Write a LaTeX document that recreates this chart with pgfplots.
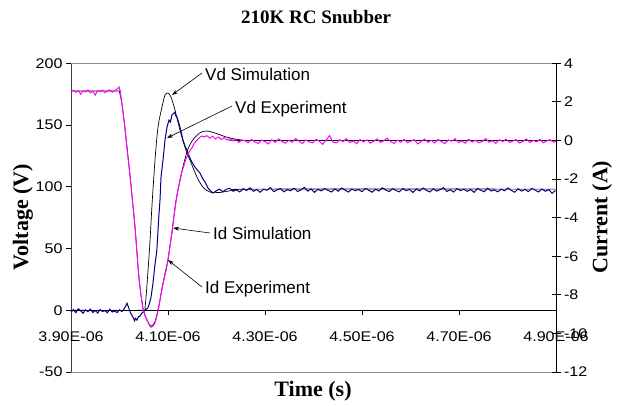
\documentclass[border=0pt]{standalone}
\usepackage{pgfplots}
\pgfplotsset{compat=1.18}
\usepackage{fontspec}
\setmainfont{Liberation Serif}
\newfontfamily\arial{Liberation Sans}
\newfontfamily\arialw[FakeStretch=1.15]{Liberation Sans}
\usetikzlibrary{arrows.meta}
\definecolor{mag}{RGB}{255,0,255}
\definecolor{navy}{RGB}{0,0,128}
\begin{document}
\begin{tikzpicture}[x=1pt,y=1pt]
\begin{axis}[
  at={(71pt,33pt)}, anchor=south west, scale only axis,
  width=485pt, height=308.7pt,
  xmin=3.9, xmax=4.9, ymin=-50, ymax=200,
  axis x line=middle, axis y line=left,
  hide obscured x ticks=false, hide obscured y ticks=false,
  axis line style={-, draw=black!75, line width=0.8pt},
  every inner x axis line/.append style={-},
  every outer y axis line/.append style={-},
  x axis line style={-, draw=black, line width=0.8pt},
  xtick={3.9,4.1,4.3,4.5,4.7,4.9},
  xticklabels={3.90E-06,4.10E-06,4.30E-06,4.50E-06,4.70E-06,4.90E-06},
  ytick={-50,0,50,100,150,200},
  yticklabels={-50,0,50,100,150,200},
  tick align=outside,
  major tick length=5pt,
  tick style={black, line width=0.8pt},
  ticklabel style={font=\arialw\fontsize{14}{16}\selectfont},
  xticklabel style={yshift=-13pt},
  clip=false,
]
\draw[black!45, line width=0.8pt] (rel axis cs:0,1) -- (rel axis cs:1,1);
\draw[black!45, line width=0.8pt] (rel axis cs:0,0) -- (rel axis cs:1,0);
% Vd simulation
\addplot[black, line width=0.7pt, smooth, tension=0.5] coordinates {
(3.900,0) (4.045,0) (4.0526,2.4) (4.0588,32.4) (4.063,56.7) (4.067,85.1) (4.0732,121.6) (4.0794,148.4)
(4.0876,164.6) (4.0938,174.3) (4.100,175.9) (4.1062,172.7) (4.1144,162.1) (4.1247,145.9)
(4.135,132.1) (4.1454,121.6) (4.1598,107.8) (4.1722,99.7) (4.1866,95.7) (4.207,95.4)
(4.238,97.3) (4.290,98.1) (4.900,98.1)};
% Vd experiment
\addplot[navy, line width=1pt] coordinates {
(3.900,-1.5) (3.905,0.5) (3.910,-2.0) (3.915,1.2) (3.920,-0.5) (3.925,-2.4) (3.930,0.3)
(3.935,-1.2) (3.940,0.9) (3.945,-1.8) (3.950,-0.2) (3.955,-2.2) (3.960,0.6) (3.965,-1.0)
(3.970,-0.3) (3.975,-2.0) (3.980,0.8) (3.985,-1.4) (3.990,-0.6) (3.995,-1.9) (4.000,0.4)
(4.005,-1.0) (4.009,0.8) (4.013,3.5) (4.0155,5.7) (4.019,2.0) (4.022,-1.6) (4.025,-3.5)
(4.028,-5.7) (4.031,-8.5) (4.033,-6.5) (4.036,-8.0) (4.039,-5.2) (4.042,-4.8) (4.046,-2.4)
(4.050,-1.0) (4.053,0.5) (4.056,1.0) (4.059,2.4) (4.062,6.0) (4.065,10.5) (4.069,21.9)
(4.073,36.5) (4.077,48.6) (4.081,75.4) (4.0835,89.2) (4.0856,107.8) (4.0897,121.6)
(4.0938,137.8) (4.098,148.4) (4.102,154.0) (4.105,152.5) (4.108,158.1) (4.1124,159.7)
(4.1144,160.5) (4.116,157.5) (4.1186,156.5) (4.1247,148.4) (4.131,137.8) (4.135,133.0)
(4.139,129.7) (4.1454,123.2) (4.150,119.5) (4.1557,115.9) (4.160,113.8) (4.166,111.1)
(4.171,107.0) (4.1763,103.8) (4.1825,98.9) (4.1866,97.3) (4.1928,94.9)
(4.199,96.6) (4.206,98.1) (4.213,96.0) (4.220,97.9) (4.227,98.8) (4.234,96.4) (4.241,97.6)
(4.248,95.8) (4.255,98.4) (4.262,97.0) (4.269,99.1) (4.276,96.3) (4.283,97.8) (4.290,95.6)
(4.297,98.0) (4.304,97.2) (4.311,99.4) (4.318,96.1) (4.325,97.5) (4.332,98.6) (4.339,95.9)
(4.346,97.7) (4.353,96.8) (4.360,98.9) (4.367,96.2) (4.374,97.4) (4.381,99.6) (4.388,96.5)
(4.395,98.2) (4.402,95.5) (4.409,97.9) (4.416,96.7) (4.423,98.5) (4.430,97.1) (4.437,95.8)
(4.444,98.3) (4.451,96.4) (4.458,99.0) (4.465,97.3) (4.472,95.7) (4.479,98.1) (4.486,96.9)
(4.493,97.8) (4.500,96.0) (4.507,98.7) (4.514,97.2) (4.521,95.6) (4.528,98.0) (4.535,96.6)
(4.542,99.2) (4.549,97.4) (4.556,96.1) (4.563,98.4) (4.570,97.0) (4.577,95.9) (4.584,98.6)
(4.591,96.8) (4.598,97.9) (4.605,95.4) (4.612,98.2) (4.619,96.7) (4.626,99.0) (4.633,97.1)
(4.640,95.8) (4.647,98.3) (4.654,96.5) (4.661,97.7) (4.668,99.3) (4.675,96.2) (4.682,97.6)
(4.689,95.7) (4.696,98.5) (4.703,96.9) (4.710,98.0) (4.717,96.3) (4.724,97.8) (4.731,95.5)
(4.738,98.6) (4.745,97.2) (4.752,96.0) (4.759,98.8) (4.766,96.6) (4.773,97.5) (4.780,95.9)
(4.787,98.1) (4.794,96.8) (4.801,99.1) (4.808,97.0) (4.815,95.6) (4.822,98.4) (4.829,96.5)
(4.836,97.9) (4.843,96.1) (4.850,98.7) (4.857,97.3) (4.864,95.8) (4.871,98.2) (4.878,96.4)
(4.885,97.7) (4.892,94.8) (4.899,97.0)};
\end{axis}
\begin{axis}[
  at={(71pt,33pt)}, anchor=south west, scale only axis,
  width=485pt, height=308.7pt,
  xmin=3.9, xmax=4.9, ymin=-12, ymax=4,
  axis x line=none, axis y line=right,
  axis line style={-, draw=black, line width=0.8pt},
  every outer y axis line/.append style={-},
  ytick={-12,-10,-8,-6,-4,-2,0,2,4},
  yticklabels={-12,-10,-8,-6,-4,-2,0,2,4},
  ytick align=center, major tick length=9pt,
  tick style={black, line width=0.8pt},
  ticklabel style={font=\arialw\fontsize{14}{16}\selectfont},
  clip=false,
]
% Id simulation
\addplot[black, line width=0.7pt, smooth, tension=0.5] coordinates {
(3.900,2.56) (3.995,2.56) (4.000,2.50) (4.005,1.9) (4.011,0.70) (4.022,-1.90) (4.032,-4.49)
(4.040,-7.08) (4.048,-8.64) (4.057,-9.32) (4.065,-9.62) (4.073,-9.40) (4.081,-8.60)
(4.090,-7.35) (4.100,-6.15) (4.108,-4.75) (4.116,-3.20) (4.125,-2.00) (4.133,-1.15)
(4.141,-0.45) (4.149,-0.05) (4.157,0.20) (4.165,0.38) (4.173,0.47) (4.180,0.49)
(4.190,0.44) (4.200,0.36) (4.210,0.27) (4.220,0.18) (4.235,0.09) (4.250,0.03)
(4.270,0.00) (4.900,0.00)};
% Id experiment
\addplot[mag, line width=1pt] coordinates {
(3.900,2.56) (3.905,2.60) (3.910,2.50) (3.915,2.58) (3.920,2.40) (3.925,2.57) (3.930,2.52)
(3.935,2.62) (3.940,2.47) (3.945,2.56) (3.950,2.35) (3.955,2.58) (3.960,2.53) (3.965,2.61)
(3.970,2.48) (3.975,2.57) (3.980,2.62) (3.985,2.50) (3.990,2.59) (3.995,2.66) (3.999,2.78)
(4.002,2.45) (4.005,1.90) (4.011,0.70) (4.016,-0.55) (4.022,-1.90) (4.027,-3.20)
(4.032,-4.49) (4.036,-5.85) (4.040,-7.08) (4.044,-7.95) (4.048,-8.64) (4.052,-9.05)
(4.057,-9.32) (4.061,-9.55) (4.065,-9.68) (4.069,-9.62) (4.073,-9.47) (4.077,-9.10)
(4.081,-8.64) (4.085,-8.05) (4.090,-7.40) (4.095,-6.85) (4.100,-6.21) (4.104,-5.50)
(4.108,-4.81) (4.112,-4.00) (4.116,-3.25) (4.120,-2.62) (4.125,-2.06) (4.129,-1.60)
(4.133,-1.28) (4.137,-0.95) (4.141,-0.76) (4.145,-0.52) (4.149,-0.40) (4.154,-0.15)
(4.160,0.02) (4.165,0.15) (4.170,0.23) (4.175,0.18) (4.180,0.25) (4.186,0.12)
(4.192,0.22) (4.198,0.08) (4.204,0.18) (4.210,0.05) (4.216,0.15) (4.222,0.02)
(4.228,0.10) (4.234,-0.02) (4.240,0.06) (4.246,-0.10) (4.252,0.02)
(4.258,0.00) (4.265,-0.12) (4.272,0.05) (4.279,-0.08) (4.286,-0.15) (4.293,0.02)
(4.300,-0.06) (4.307,-0.18) (4.314,0.04) (4.321,-0.10) (4.328,0.08) (4.335,-0.05)
(4.342,-0.14) (4.349,0.01) (4.356,-0.09) (4.363,0.10) (4.370,-0.03) (4.377,-0.16)
(4.384,0.03) (4.391,-0.07) (4.398,-0.12) (4.405,0.06) (4.412,-0.04) (4.419,-0.20)
(4.426,0.02) (4.433,0.25) (4.440,-0.08) (4.447,-0.13) (4.454,0.04) (4.461,-0.06)
(4.468,0.09) (4.475,-0.11) (4.482,-0.02) (4.489,-0.17) (4.496,0.05) (4.503,-0.07)
(4.510,0.03) (4.517,-0.14) (4.524,-0.04) (4.531,0.08) (4.538,-0.10) (4.545,-0.01)
(4.552,0.12) (4.559,-0.06) (4.566,-0.15) (4.573,0.02) (4.580,-0.09) (4.587,0.06)
(4.594,-0.12) (4.601,-0.03) (4.608,0.04) (4.615,-0.18) (4.622,-0.05) (4.629,0.07)
(4.636,-0.10) (4.643,0.01) (4.650,-0.13) (4.657,0.05) (4.664,-0.07) (4.671,-0.16)
(4.678,0.03) (4.685,-0.04) (4.692,0.09) (4.699,-0.11) (4.706,-0.02) (4.713,-0.14)
(4.720,0.06) (4.727,-0.08) (4.734,0.02) (4.741,-0.12) (4.748,-0.05) (4.755,0.10)
(4.762,-0.09) (4.769,-0.01) (4.776,-0.15) (4.783,0.04) (4.790,-0.06) (4.797,0.07)
(4.804,-0.10) (4.811,-0.03) (4.818,0.05) (4.825,-0.13) (4.832,-0.04) (4.839,0.08)
(4.846,-0.11) (4.853,0.00) (4.860,-0.07) (4.867,0.06) (4.874,-0.12) (4.881,-0.02)
(4.888,0.04) (4.895,-0.09) (4.900,-0.03)};
\end{axis}
% titles and labels
\node[font=\bfseries\fontsize{19}{22}\selectfont] at (316,388) {210K RC Snubber};
\node[font=\bfseries\fontsize{22}{26}\selectfont] at (313,14) {Time (s)};
\node[font=\bfseries\fontsize{22}{26}\selectfont, rotate=90] at (23,188) {Voltage (V)};
\node[font=\bfseries\fontsize{22}{26}\selectfont, rotate=90] at (602,188) {Current (A)};
% annotations
\begin{scope}[font=\arial\fontsize{17}{20}\selectfont, inner sep=0pt]
\node[anchor=base west] at (205,324) {Vd Simulation};
\node[anchor=base west] at (235,291) {Vd Experiment};
\node[anchor=base west] at (213,166) {Id Simulation};
\node[anchor=base west] at (205,112) {Id Experiment};
\end{scope}
\begin{scope}[line width=0.6pt, -{Stealth[length=6pt,width=4pt]}]
\draw (202,332) -- (172,310);
\draw (232,299) -- (167,267);
\draw (210,172) -- (173,177);
\draw (202,118) -- (168,145);
\end{scope}
\pgfresetboundingbox
\path[use as bounding box] (0,0) rectangle (632,405);
\end{tikzpicture}
\end{document}
